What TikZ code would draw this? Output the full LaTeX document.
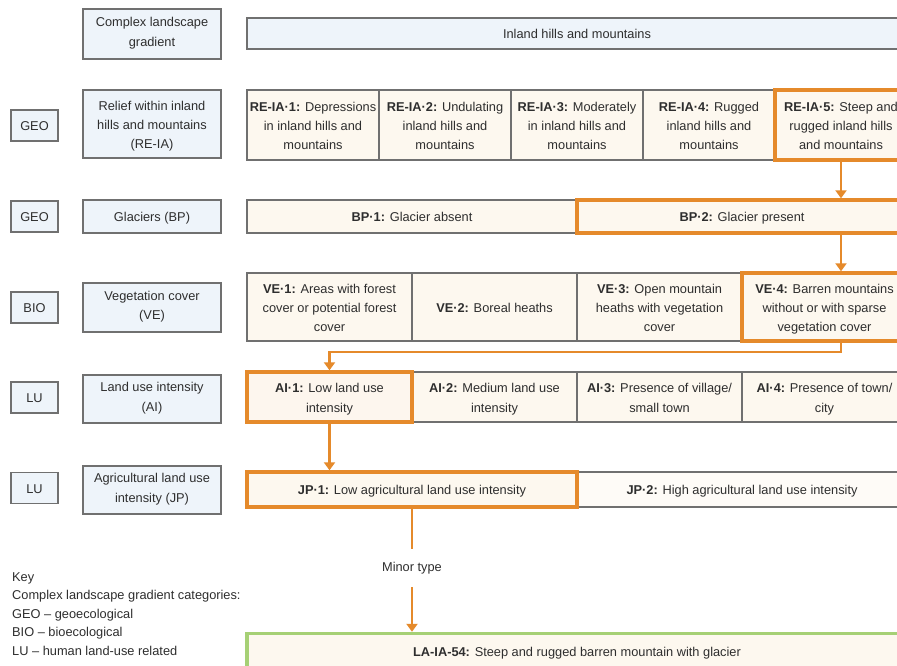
\documentclass[tikz,border=0pt]{standalone}
\usepackage{fontspec}
\setmainfont{Liberation Sans}
\usetikzlibrary{arrows.meta}
\definecolor{lblfill}{HTML}{EEF4FA}
\definecolor{cellfill}{HTML}{FDF8EF}
\definecolor{edgegray}{HTML}{707070}
\definecolor{orng}{HTML}{E58A2B}
\definecolor{grn}{HTML}{A6D075}
\definecolor{txt}{HTML}{2E2E2E}
\newcommand\boxstrut{\rule[-4pt]{0pt}{18pt}}
\newcommand\tl{\rule{0pt}{15pt}}
\tikzset{
  boxbase/.style={draw=edgegray, line width=1.8pt, inner sep=2pt, align=center,
    font=\fontsize{12.8}{19.3}\selectfont, text=txt,
    execute at begin node=\boxstrut, execute at end node=\boxstrut},
  lbl/.style={boxbase, fill=lblfill, minimum width=138pt},
  tagbox/.style={boxbase, fill=lblfill, minimum width=47pt, minimum height=31pt},
  cell/.style={boxbase, fill=cellfill},
  sel/.style={draw=orng, line width=3.4pt},
  arr/.style={draw=orng, line width=2.3pt, -{Triangle[width=11pt,length=8pt]}},
  plainline/.style={draw=orng, line width=2.3pt},
  plaintext/.style={font=\fontsize{12.8}{18.4}\selectfont, text=txt, inner sep=0pt},
}
\begin{document}
\begin{tikzpicture}[x=1pt,y=-1pt]
\useasboundingbox (0,0) rectangle (897,666);
\fill[white] (0,0) rectangle (897,666);
\clip (0,0) rectangle (897,666);

% Row 1
\node[lbl, minimum height=50pt] (clg) at (152,34) {Complex landscape\\gradient};
\node[cell, fill=lblfill, minimum width=660pt, minimum height=31pt] (ihm) at (577,33.5) {Inland hills and mountains};

% Row 2
\node[tagbox] (geo1) at (34.5,125.5) {GEO};
\node[lbl, minimum height=68pt] (reia) at (152,124) {\tl Relief within inland\\hills and mountains\\(RE-IA)};
\node[cell, minimum width=132pt, minimum height=70pt] (re1) at (313,125) {\tl\textbf{RE-IA·1:} Depressions\\in inland hills and\\mountains};
\node[cell, minimum width=132pt, minimum height=70pt] (re2) at (445,125) {\tl\textbf{RE-IA·2:} Undulating\\inland hills and\\mountains};
\node[cell, minimum width=132pt, minimum height=70pt] (re3) at (577,125) {\tl\textbf{RE-IA·3:} Moderately\\in inland hills and\\mountains};
\node[cell, minimum width=132pt, minimum height=70pt] (re4) at (709,125) {\tl\textbf{RE-IA·4:} Rugged\\inland hills and\\mountains};
\node[cell, sel, minimum width=132pt, minimum height=70pt] (re5) at (841,125) {\tl\textbf{RE-IA·5:} Steep and\\rugged inland hills\\and mountains};

% Row 3
\node[tagbox] (geo2) at (34.5,216.5) {GEO};
\node[lbl, minimum height=33pt] (bp) at (152,216.5) {Glaciers (BP)};
\node[cell, minimum width=330pt, minimum height=33pt] (bp1) at (412,216.5) {\textbf{BP·1:} Glacier absent};
\node[cell, sel, minimum width=330pt, minimum height=33pt] (bp2) at (742,216.5) {\textbf{BP·2:} Glacier present};

% Row 4
\node[tagbox] (bio) at (34.5,307.5) {BIO};
\node[lbl, minimum height=49pt] (ve) at (152,307.5) {Vegetation cover\\(VE)};
\node[cell, minimum width=165pt, minimum height=68pt] (ve1) at (329.5,307) {\tl\textbf{VE·1:} Areas with forest\\cover or potential forest\\cover};
\node[cell, minimum width=165pt, minimum height=68pt] (ve2) at (494.5,307) {\textbf{VE·2:} Boreal heaths};
\node[cell, minimum width=165pt, minimum height=68pt] (ve3) at (659.5,307) {\tl\textbf{VE·3:} Open mountain\\heaths with vegetation\\cover};
\node[cell, sel, minimum width=165pt, minimum height=68pt] (ve4) at (824.5,307) {\tl\textbf{VE·4:} Barren mountains\\without or with sparse\\vegetation cover};

% Row 5
\node[tagbox] (lu1) at (34.5,397.5) {LU};
\node[lbl, minimum height=48pt] (ai) at (152,399) {Land use intensity\\(AI)};
\node[cell, minimum width=165pt, minimum height=50pt] (ai2) at (494.5,397) {\tl\textbf{AI·2:} Medium land use\\intensity};
\node[cell, minimum width=165pt, minimum height=50pt] (ai3) at (659.5,397) {\tl\textbf{AI·3:} Presence of village/\\small town};
\node[cell, minimum width=165pt, minimum height=50pt] (ai4) at (824.5,397) {\tl\textbf{AI·4:} Presence of town/\\city};
\node[cell, sel, fill=orng!8, minimum width=165pt, minimum height=50pt] (ai1) at (329.5,397) {\tl\textbf{AI·1:} Low land use\\intensity};

% Row 6
\node[tagbox] (lu2) at (34.5,488) {LU};
\node[lbl, minimum height=48pt] (jp) at (152,490) {Agricultural land use\\intensity (JP)};
\node[cell, fill=cellfill!50, minimum width=330pt, minimum height=35pt] (jp2) at (742,489.5) {\textbf{JP·2:} High agricultural land use intensity};
\node[cell, sel, minimum width=330pt, minimum height=35pt] (jp1) at (412,489.5) {\textbf{JP·1:} Low agricultural land use intensity};

% Minor type and result
\node[plaintext, minimum height=38pt] (minor) at (412,568) {Minor type};
\node[cell, draw=grn, line width=3.4pt, minimum width=660pt, minimum height=35pt] (la) at (577,651) {\textbf{LA-IA-54:} Steep and rugged barren mountain with glacier};

% Key
\node[plaintext, anchor=north west, align=left] (key) at (12,572.5) {Key\\Complex landscape gradient categories:\\GEO – geoecological\\BIO – bioecological\\LU – human land-use related};

% Connectors
\draw[arr] (re5.south) -- (re5.south |- bp2.north);
\draw[arr] (re5.south |- bp2.south) -- (re5.south |- ve4.north);
\draw[arr] (re5.south |- ve4.south) -- ++(0,9) -| (ai1.north);
\draw[arr] (ai1.south) -- (ai1.south |- jp1.north);
\draw[plainline] (jp1.south) -- (minor.north);
\draw[arr] (minor.south) -- (minor.south |- la.north);
\end{tikzpicture}
\end{document}
